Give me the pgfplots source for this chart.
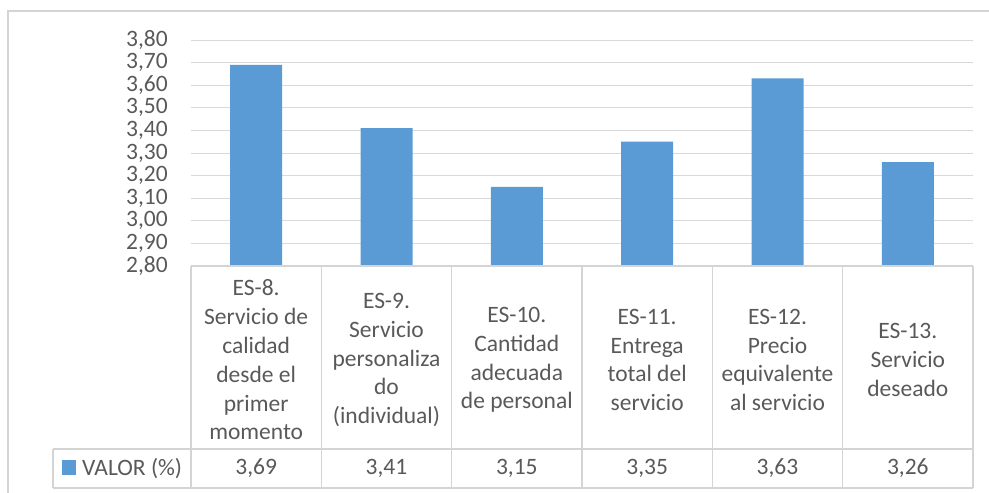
\documentclass[border=0pt]{standalone}
\usepackage{fontspec}
\setmainfont{Carlito}
\usepackage{pgfplots}
\pgfplotsset{compat=1.18}
\usepackage{pgfplotstable}
\definecolor{barblue}{HTML}{5B9BD5}
\definecolor{gridgray}{HTML}{D9D9D9}
\definecolor{linegray}{HTML}{D4D4D4}
\definecolor{textgray}{HTML}{595959}

% valores por item
\pgfplotstableread{
x y
0 3.69
1 3.41
2 3.15
3 3.35
4 3.63
5 3.26
}\valores

\newcommand{\chartfont}{\fontsize{23.5}{28.8}\selectfont}

\begin{document}
\begin{tikzpicture}
\useasboundingbox (0pt,0pt) rectangle (989pt,-493pt);
\draw[linegray, line width=1.2pt] (8pt,-493pt) -- (8pt,-11pt) -- (989pt,-11pt);
\begin{axis}[
    at={(191pt,-266pt)}, anchor=south west,
    scale only axis, width=782pt, height=226pt,
    xmin=-0.5, xmax=5.5, ymin=2.8, ymax=3.8,
    clip=false,
    axis line style={draw=none},
    major tick length=0pt,
    ymajorgrids, grid style={gridgray, line width=1pt},
    ytick={2.8,2.9,3.0,3.1,3.2,3.3,3.4,3.5,3.6,3.7,3.8},
    xtick={0,1,2,3,4,5},
    xticklabels={
        {ES-8.\\Servicio de\\calidad\\desde el\\primer\\momento},
        {ES-9.\\Servicio\\personaliza\\do\\(individual)},
        {ES-10.\\Cantidad\\adecuada\\de personal},
        {ES-11.\\Entrega\\total del\\servicio},
        {ES-12.\\Precio\\equivalente\\al servicio},
        {ES-13.\\Servicio\\deseado}},
    /pgf/number format/.cd, use comma, fixed, fixed zerofill, precision=2, assume math mode=true,
    /pgfplots/.cd,
    tick label style={font=\chartfont, text=textgray},
    yticklabel style={anchor=east, inner sep=0pt, xshift=-23pt},
    xticklabel style={anchor=center, align=center, inner sep=0pt, yshift=-94pt},
]
\addplot[ybar, bar width=52pt, bar shift=0pt, fill=barblue, draw=none]
    table[x=x, y=y]{\valores};
\addplot[draw=none, mark=none, forget plot, point meta=explicit,
    nodes near coords, nodes near coords style={anchor=center, font=\chartfont, text=textgray}]
    table[x=x, y expr=1.904, meta=y]{\valores};
% cuadricula de la tabla de datos
\draw[linegray, line width=1.3pt] (axis cs:-0.5,2.8) -- (axis cs:5.5,2.8);
\draw[linegray, line width=1.3pt] (axis cs:-1.559,1.9903) -- (axis cs:5.5,1.9903);
\draw[linegray, line width=1.3pt] (axis cs:-1.559,1.8177) -- (axis cs:5.5,1.8177);
\draw[linegray, line width=1.3pt] (axis cs:-1.559,1.9903) -- (axis cs:-1.559,1.8177);
\pgfplotsinvokeforeach{-0.5,0.5,1.5,2.5,3.5,4.5,5.5}{
    \draw[linegray, line width=1.3pt] (axis cs:#1,2.8) -- (axis cs:#1,1.8177);
}
\end{axis}
% clave de la serie en la tabla
\fill[barblue] (62pt,-460pt) rectangle (76pt,-475pt);
\node[anchor=west, inner sep=0pt, text=textgray] at (82pt,-468.5pt) {\chartfont VALOR (\%)};
\end{tikzpicture}
\end{document}
